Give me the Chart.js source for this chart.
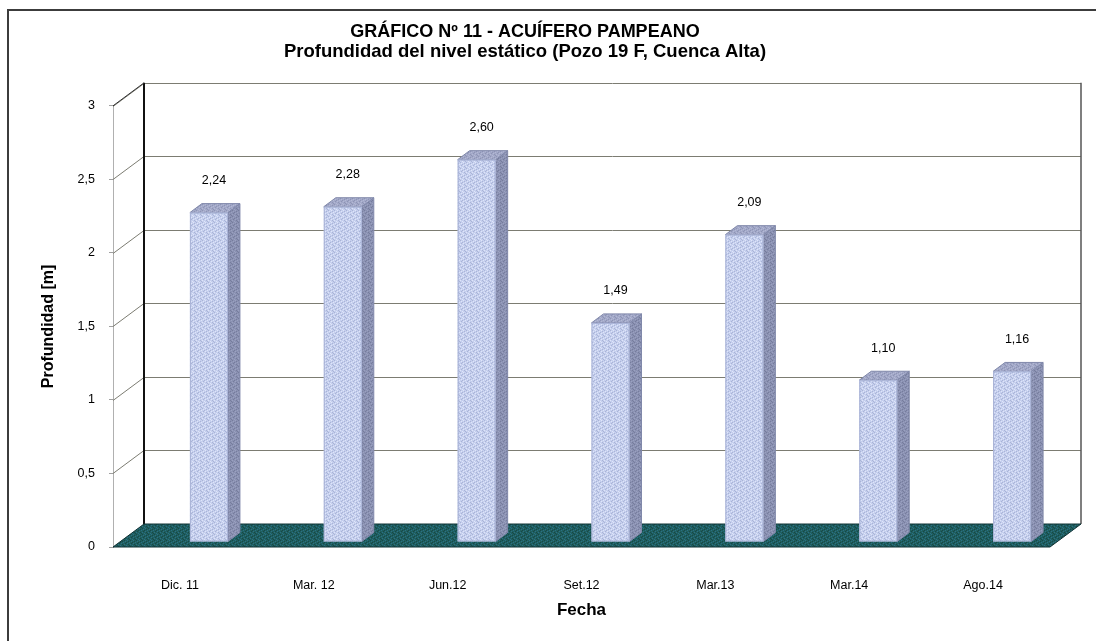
<!DOCTYPE html>
<html>
<head>
<meta charset="utf-8">
<script src="https://cdn.jsdelivr.net/npm/chart.js@4.4.1/dist/chart.umd.min.js"></script>
<style>
html, body { margin: 0; padding: 0; background: #fff; }
#wrap { width: 1096px; height: 641px; position: relative; }
</style>
</head>
<body>
<div id="wrap"><canvas id="grafico"></canvas></div>
<script>
var fechas = ["Dic. 11", "Mar. 12", "Jun.12", "Set.12", "Mar.13", "Mar.14", "Ago.14"];
var profundidad = [2.24, 2.28, 2.60, 1.49, 2.09, 1.10, 1.16];
var yMin = 0, yMax = 3, yPaso = 0.5;
var titulo = "GRÁFICO Nº 11 - ACUÍFERO PAMPEANO";
var subtitulo = "Profundidad del nivel estático (Pozo 19 F, Cuenca Alta)";
var tituloY = "Profundidad [m]";
var tituloX = "Fecha";

Chart.defaults.font.family = "'Liberation Sans', Arial, sans-serif";
Chart.defaults.color = "#000";

var fondo = { dx: 31, dy: -23 };                   // profundidad de las paredes
var barra = { sx: 29, sy: -5, dx: 12, dy: -9 };    // desplazamiento y espesor de las barras

function coma(v, dec) {
	return (dec === undefined ? String(v) : v.toFixed(dec)).replace('.', ',');
}

// textura punteada fija, parecida al relleno de Excel
function trama(ctx, base, claro, oscuro) {
	var mapa = [
		0, 1, 0, 0, 2, 0,
		0, 0, 2, 0, 0, 1,
		2, 0, 0, 1, 0, 0,
		0, 1, 0, 0, 0, 2,
		0, 0, 2, 0, 1, 0,
		1, 0, 0, 2, 0, 0
	];
	var cv = document.createElement('canvas');
	cv.width = 6; cv.height = 6;
	var g = cv.getContext('2d');
	var col = [base, claro, oscuro];
	mapa.forEach(function(m, i) {
		g.fillStyle = col[m];
		g.fillRect(i % 6, Math.floor(i / 6), 1, 1);
	});
	return ctx.createPattern(cv, 'repeat');
}

var efecto3d = {
	id: 'efecto3d',
	beforeDraw: function(chart) {
		var c = chart.ctx;
		c.save();
		c.fillStyle = '#fff';
		c.fillRect(0, 0, chart.width, chart.height);
		c.strokeStyle = '#3c3c3c';
		c.lineWidth = 2;
		c.beginPath();
		c.moveTo(8, chart.height);
		c.lineTo(8, 10);
		c.lineTo(chart.width, 10);
		c.stroke();
		c.restore();
	},
	beforeDatasetsDraw: function(chart) {
		var c = chart.ctx, a = chart.chartArea, ys = chart.scales.y;
		var dx = fondo.dx, dy = fondo.dy;
		c.save();
		// lineas de division en la pared izquierda y en el fondo
		c.lineWidth = 1;
		c.strokeStyle = '#7c7c72';
		ys.ticks.forEach(function(t) {
			if (t.value === yMin) return;
			var p = Math.round(ys.getPixelForValue(t.value)) + 0.5;
			c.beginPath();
			c.moveTo(a.left, p);
			c.lineTo(a.left + dx, p + dy);
			c.lineTo(a.right + dx, p + dy);
			c.stroke();
		});
		// bordes de la pared del fondo
		c.strokeStyle = '#111';
		c.lineWidth = 2;
		c.beginPath();
		c.moveTo(a.left + dx, a.bottom + dy);
		c.lineTo(a.left + dx, a.top + dy);
		c.stroke();
		c.strokeStyle = '#555';
		c.lineWidth = 1.5;
		c.beginPath();
		c.moveTo(a.right + dx, a.top + dy);
		c.lineTo(a.right + dx, a.bottom + dy);
		c.stroke();
		c.strokeStyle = '#333';
		c.lineWidth = 1;
		c.beginPath();
		c.moveTo(a.left, a.top);
		c.lineTo(a.left + dx, a.top + dy);
		c.stroke();
		// piso
		c.fillStyle = trama(c, '#1f5e5e', '#2a6f86', '#164848');
		c.strokeStyle = '#0f3234';
		c.beginPath();
		c.moveTo(a.left, a.bottom);
		c.lineTo(a.right, a.bottom);
		c.lineTo(a.right + dx, a.bottom + dy);
		c.lineTo(a.left + dx, a.bottom + dy);
		c.closePath();
		c.fill();
		c.stroke();

		// barras
		var frente = trama(c, '#c5cfee', '#dfe5f8', '#aab4d6');
		var lado = trama(c, '#8a91b2', '#9ba1c0', '#767c9c');
		var arriba = trama(c, '#a2a8c8', '#b4b9d4', '#8e94b4');
		var meta = chart.getDatasetMeta(0);
		meta.data.forEach(function(el) {
			var p = el.getProps(['x', 'y', 'base', 'width'], true);
			var L = p.x - p.width / 2 + barra.sx, R = L + p.width;
			var T = p.y + barra.sy, B = p.base + barra.sy;
			var bx = barra.dx, by = barra.dy;
			c.lineWidth = 1;
			c.strokeStyle = '#8088aa';
			// cara lateral
			c.fillStyle = lado;
			c.beginPath();
			c.moveTo(R, T); c.lineTo(R + bx, T + by); c.lineTo(R + bx, B + by); c.lineTo(R, B);
			c.closePath(); c.fill(); c.stroke();
			// cara superior
			c.fillStyle = arriba;
			c.beginPath();
			c.moveTo(L, T); c.lineTo(L + bx, T + by); c.lineTo(R + bx, T + by); c.lineTo(R, T);
			c.closePath(); c.fill(); c.stroke();
			// frente
			c.fillStyle = frente;
			c.fillRect(L, T, p.width, B - T);
			c.strokeStyle = '#a9b3d6';
			c.strokeRect(L + 0.5, T + 0.5, p.width - 1, B - T - 1);
		});
		c.restore();
	},
	afterDatasetsDraw: function(chart) {
		var c = chart.ctx;
		var meta = chart.getDatasetMeta(0);
		c.save();
		c.fillStyle = '#000';
		c.font = "12.5px 'Liberation Sans', Arial, sans-serif";
		c.textAlign = 'center';
		c.textBaseline = 'middle';
		meta.data.forEach(function(el, i) {
			var p = el.getProps(['x', 'y'], true);
			c.fillText(coma(profundidad[i], 2), p.x + 34, p.y + barra.sy - 32);
		});
		c.restore();
	}
};

new Chart(document.getElementById('grafico').getContext('2d'), {
	type: 'bar',
	data: {
		labels: fechas,
		datasets: [{
			label: tituloY,
			data: profundidad,
			backgroundColor: 'rgba(0,0,0,0)',
			borderWidth: 0,
			categoryPercentage: 1,
			barPercentage: 0.284
		}]
	},
	options: {
		responsive: true,
		maintainAspectRatio: false,
		animation: false,
		events: [],
		layout: { padding: { top: 0, left: 0, right: 46, bottom: 0 } },
		plugins: {
			legend: { display: false },
			tooltip: { enabled: false },
			title: {
				display: true,
				text: titulo,
				font: { size: 18, weight: 'bold', lineHeight: 1.1 },
				padding: { top: 22, bottom: 0 }
			},
			subtitle: {
				display: true,
				text: subtitulo,
				color: '#000',
				font: { size: 18.5, weight: 'bold', lineHeight: 1.1 },
				padding: { top: 0, bottom: 43.7 }
			}
		},
		scales: {
			x: {
				grid: { display: false },
				border: { display: false },
				ticks: { font: { size: 12.5 }, padding: 23, maxRotation: 0 },
				title: { display: true, text: tituloX, font: { size: 17, weight: 'bold' }, padding: { top: 0, bottom: 20 } },
				afterFit: function(s) { s.height = 94; }
			},
			y: {
				min: yMin,
				max: yMax,
				ticks: {
					stepSize: yPaso,
					font: { size: 12.5 },
					padding: 14,
					callback: function(v) { return coma(v); }
				},
				grid: { display: true, drawOnChartArea: false, drawTicks: true, tickLength: 4, color: '#a0a0a0' },
				border: { display: true, color: '#b0b0b0' },
				title: { display: true, text: tituloY, font: { size: 16, weight: 'bold' }, padding: { top: 39, bottom: 0 } },
				afterFit: function(s) { s.width = 113; }
			}
		}
	},
	plugins: [efecto3d]
});
</script>
</body>
</html>
